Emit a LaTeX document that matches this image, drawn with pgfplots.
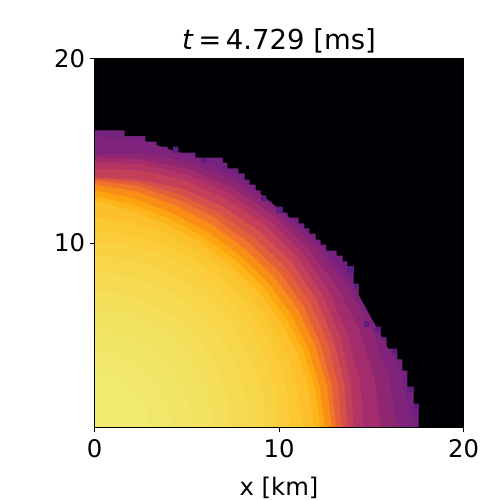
\documentclass[border=0pt]{standalone}
\usepackage{fontspec}
\setmainfont{DejaVu Sans}
\usepackage{pgfplots}
\pgfplotsset{compat=1.18}
\definecolor{bgblack}{HTML}{000004}
\definecolor{edgecell}{HTML}{601D80}
% contour bands, outermost to innermost
\definecolor{b0}{HTML}{74227E}
\definecolor{b1}{HTML}{80237C}
\definecolor{b2}{HTML}{8F2672}
\definecolor{b3}{HTML}{A52C6C}
\definecolor{b4}{HTML}{B43464}
\definecolor{b5}{HTML}{C44058}
\definecolor{b6}{HTML}{D5504A}
\definecolor{b7}{HTML}{E45F38}
\definecolor{b8}{HTML}{F0742A}
\definecolor{b9}{HTML}{F98E15}
\definecolor{b10}{HTML}{FCA510}
\definecolor{b11}{HTML}{FDB51A}
\definecolor{b12}{HTML}{FDC02A}
\definecolor{b13}{HTML}{FCC832}
\definecolor{b14}{HTML}{FBCD3A}
\definecolor{b15}{HTML}{F9D244}
\definecolor{b16}{HTML}{F8D64A}
\definecolor{b17}{HTML}{F6DA52}
\definecolor{b18}{HTML}{F4DE5A}
\definecolor{b19}{HTML}{F3E160}
\definecolor{b20}{HTML}{F2E466}
\definecolor{b21}{HTML}{F1E76B}
\definecolor{b22}{HTML}{F1EA70}
\pgfplotsset{band/.style={fill=#1, draw=none, data cs=polar}}

\begin{document}
\begin{tikzpicture}
\useasboundingbox (-70.9pt,-54.35pt) rectangle ++(360pt,375pt);
\begin{axis}[
    at={(0,0)}, anchor=south west,
    scale only axis, width=276.75pt, height=276.75pt,
    xmin=0, xmax=20, ymin=0, ymax=20,
    xtick={0,10,20}, ytick={10,20},
    tick align=outside, tick pos=left,
    major tick length=3.6pt,
    every tick/.style={black, line width=0.8pt},
    axis line style={black, line width=0.8pt},
    axis background/.style={fill=bgblack},
    axis on top,
    /pgf/number format/assume math mode=true,
    tick label style={font=\fontsize{18.2}{20}\selectfont},
    xticklabel style={yshift=-2pt},
    xlabel={x [km]},
    label style={font=\fontsize{18.2}{20}\selectfont},
    xlabel style={yshift=-7.5pt},
    title={\textit{t}\,=\,4.729 [ms]},
    title style={font=\fontsize{20.6}{24}\selectfont, yshift=-5.5pt},
]
% front of the ejecta, read cell by cell
\addplot[fill=b0, draw=none] coordinates {
(0,0)(17.56,0)(17.56,1.30)(17.29,1.30)(17.29,2.22)(16.96,2.22)(16.96,3.09)(16.69,3.09)
(16.69,3.69)(16.42,3.69)(16.42,4.28)(15.83,4.28)(15.83,4.88)(15.5,4.88)(15.5,5.47)
(14.9,5.47)(14.9,5.75)(14.63,5.75)(14.63,6.34)(14.31,6.34)(14.31,7.8)(14.04,7.8)
(14.04,8.73)(13.71,8.73)(13.71,9.0)(13.44,9.0)(13.44,9.32)(13.12,9.32)(13.12,9.59)
(12.57,9.59)(12.57,9.92)(12.25,9.92)(12.25,10.19)(11.98,10.19)(11.98,10.51)(11.65,10.51)
(11.65,10.79)(11.38,10.79)(11.38,11.06)(11.06,11.06)(11.06,11.38)(10.46,11.38)(10.46,11.65)
(10.19,11.65)(10.19,11.98)(9.6,11.98)(9.6,12.25)(9.32,12.25)(9.32,12.57)(9.0,12.57)
(9.0,12.85)(8.73,12.85)(8.73,13.17)(8.4,13.17)(8.4,13.44)(8.13,13.44)(8.13,13.77)
(7.8,13.77)(7.8,14.04)(7.2,14.04)(7.2,14.36)(6.94,14.36)(6.94,14.63)(5.47,14.63)
(5.47,14.9)(4.55,14.9)(4.55,15.23)(4.28,15.23)(4.28,14.9)(3.96,14.9)(3.96,15.23)
(3.36,15.23)(3.36,15.5)(2.76,15.5)(2.76,15.8)(1.63,15.8)(1.63,16.1)(0,16.1)} -- cycle;
% inner bands as (angle, radius)
\addplot[band=b1] coordinates {(0,0)(0,17.25)(10,16.9)(20,16.2)(30,16.0)(40,15.75)(50,15.5)(60,15.7)(70,15.6)(80,15.75)(90,15.8)} -- cycle;
\addplot[band=b2] coordinates {(0,0)(0,16.4)(10,16.2)(20,15.9)(30,15.7)(40,15.5)(50,15.35)(60,15.4)(70,15.3)(80,15.1)(90,14.8)} -- cycle;
\addplot[band=b3] coordinates {(0,0)(0,15.5)(10,15.4)(20,15.3)(30,15.2)(40,15.1)(50,15.05)(60,15.0)(70,14.9)(80,14.75)(90,14.65)} -- cycle;
\addplot[band=b4] coordinates {(0,0)(0,14.6)(10,14.6)(20,14.6)(30,14.7)(40,14.7)(50,14.7)(60,14.65)(70,14.6)(80,14.5)(90,14.36)} -- cycle;
\addplot[band=b5] coordinates {(0,0)(0,14.04)(10,14.1)(20,14.2)(30,14.3)(40,14.35)(50,14.35)(60,14.3)(70,14.25)(80,14.15)(90,14.04)} -- cycle;
\addplot[band=b6] coordinates {(0,0)(0,13.7)(10,13.75)(20,13.8)(30,13.9)(40,13.95)(50,13.9)(60,13.85)(70,13.8)(80,13.65)(90,13.55)} -- cycle;
\addplot[band=b7] coordinates {(0,0)(0,13.4)(10,13.4)(20,13.45)(30,13.5)(40,13.5)(50,13.45)(60,13.45)(70,13.45)(80,13.5)(90,13.5)} -- cycle;
\addplot[band=b8] coordinates {(0,0)(0,13.1)(10,13.05)(20,13.05)(30,13.1)(40,13.1)(50,13.05)(60,13.1)(70,13.15)(80,13.3)(90,13.4)} -- cycle;
\addplot[band=b9] coordinates {(0,0)(0,12.85)(10,12.8)(20,12.75)(30,12.75)(40,12.7)(50,12.65)(60,12.7)(70,12.8)(80,13.0)(90,13.17)} -- cycle;
\addplot[band=b10] coordinates {(0,0)(0,12.5)(10,12.4)(20,12.35)(30,12.3)(40,12.25)(50,12.2)(60,12.25)(70,12.35)(80,12.6)(90,12.85)} -- cycle;
\addplot[band=b11] coordinates {(0,0)(0,12.25)(10,12.15)(20,12.05)(30,11.95)(40,11.9)(50,11.85)(60,11.9)(70,12.0)(80,12.25)(90,12.55)} -- cycle;
\addplot[band=b12] coordinates {(0,0)(0,11.9)(10,11.8)(20,11.7)(30,11.6)(40,11.55)(50,11.5)(60,11.55)(70,11.65)(80,11.9)(90,12.3)} -- cycle;
\addplot[band=b13] coordinates {(0,0)(0,11.3)(10,11.2)(20,11.2)(30,11.1)(40,11.1)(50,11.1)(60,11.1)(70,11.2)(80,11.3)(90,11.4)} -- cycle;
\addplot[band=b14] coordinates {(0,0)(0,10.6)(10,10.6)(20,10.6)(30,10.6)(40,10.6)(50,10.6)(60,10.6)(70,10.6)(80,10.6)(90,10.7)} -- cycle;
\addplot[band=b15] coordinates {(0,0)(0,10.0)(10,10.0)(20,10.0)(30,10.0)(40,10.0)(50,10.0)(60,10.0)(70,10.0)(80,10.0)(90,10.0)} -- cycle;
\addplot[band=b16] coordinates {(0,0)(0,9.3)(10,9.3)(20,9.3)(30,9.3)(40,9.3)(50,9.3)(60,9.3)(70,9.3)(80,9.3)(90,9.3)} -- cycle;
\addplot[band=b17] coordinates {(0,0)(0,8.4)(10,8.4)(20,8.4)(30,8.4)(40,8.4)(50,8.4)(60,8.4)(70,8.4)(80,8.4)(90,8.4)} -- cycle;
\addplot[band=b18] coordinates {(0,0)(0,7.4)(10,7.4)(20,7.4)(30,7.4)(40,7.4)(50,7.4)(60,7.4)(70,7.4)(80,7.4)(90,7.4)} -- cycle;
\addplot[band=b19] coordinates {(0,0)(0,6.4)(10,6.4)(20,6.4)(30,6.4)(40,6.4)(50,6.4)(60,6.4)(70,6.4)(80,6.4)(90,6.4)} -- cycle;
\addplot[band=b20] coordinates {(0,0)(0,5.3)(10,5.3)(20,5.3)(30,5.3)(40,5.3)(50,5.3)(60,5.3)(70,5.3)(80,5.3)(90,5.3)} -- cycle;
\addplot[band=b21] coordinates {(0,0)(0,4.2)(10,4.2)(20,4.2)(30,4.2)(40,4.2)(50,4.2)(60,4.2)(70,4.2)(80,4.2)(90,4.2)} -- cycle;
\addplot[band=b22] coordinates {(0,0)(0,3.0)(10,3.0)(20,3.0)(30,3.0)(40,3.0)(50,3.0)(60,3.0)(70,3.0)(80,3.0)(90,3.0)} -- cycle;
% darker cells along the front
\addplot[fill=edgecell, draw=none] coordinates {(9.86,11.65)(10.19,11.65)(10.19,11.98)(9.86,11.98)} -- cycle;
\addplot[fill=edgecell, draw=none] coordinates {(13.71,8.4)(14.04,8.4)(14.04,8.73)(13.71,8.73)} -- cycle;
\addplot[fill=edgecell, draw=none] coordinates {(14.04,7.5)(14.31,7.5)(14.31,7.8)(14.04,7.8)} -- cycle;
\addplot[fill=edgecell, draw=none] coordinates {(14.63,5.47)(14.9,5.47)(14.9,5.75)(14.63,5.75)} -- cycle;
\addplot[fill=edgecell, draw=none] coordinates {(15.2,5.2)(15.5,5.2)(15.5,5.47)(15.2,5.47)} -- cycle;
\addplot[fill=edgecell, draw=none] coordinates {(16.1,4.0)(16.42,4.0)(16.42,4.28)(16.1,4.28)} -- cycle;
\addplot[fill=edgecell, draw=none] coordinates {(16.96,1.95)(17.29,1.95)(17.29,2.22)(16.96,2.22)} -- cycle;
\addplot[fill=edgecell, draw=none] coordinates {(17.29,1.0)(17.56,1.0)(17.56,1.3)(17.29,1.3)} -- cycle;
\addplot[fill=edgecell, draw=none] coordinates {(4.28,14.9)(4.55,14.9)(4.55,15.23)(4.28,15.23)} -- cycle;
\addplot[fill=edgecell, draw=none] coordinates {(5.75,14.36)(6.04,14.36)(6.04,14.63)(5.75,14.63)} -- cycle;
\addplot[fill=edgecell, draw=none] coordinates {(9.0,12.3)(9.32,12.3)(9.32,12.57)(9.0,12.57)} -- cycle;
\end{axis}
\end{tikzpicture}
\end{document}
